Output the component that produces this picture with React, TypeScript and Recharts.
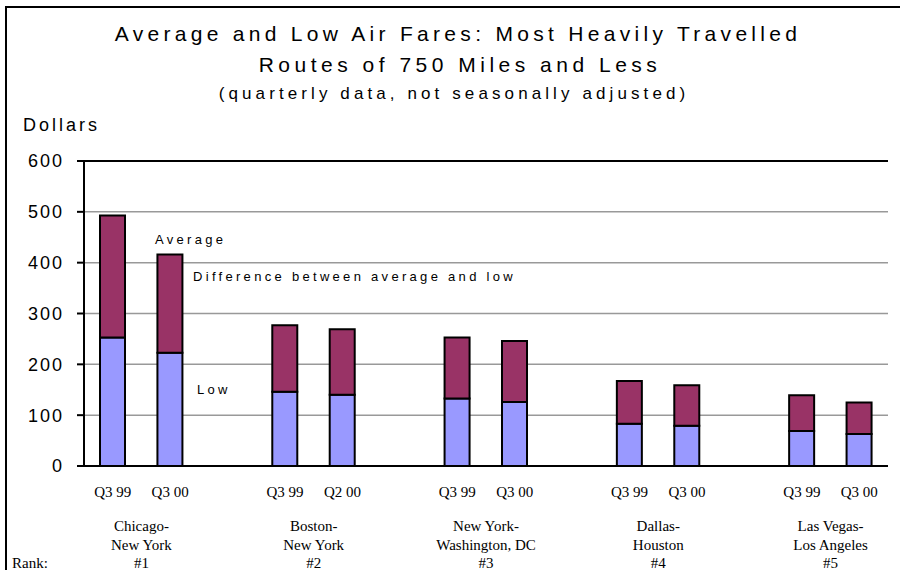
import { Bar, BarChart, CartesianGrid, ReferenceLine, XAxis, YAxis } from "recharts";

const routeTop = ["Chicago-", "Boston-", "New York-", "Dallas-", "Las Vegas-"];
const routeBottom = ["New York", "New York", "Washington, DC", "Houston", "Los Angeles"];
const ranks = ["#1", "#2", "#3", "#4", "#5"];
const quarters = ["Q3 99", "Q3 00", "Q3 99", "Q2 00", "Q3 99", "Q3 00", "Q3 99", "Q3 00", "Q3 99", "Q3 00"];
const lowFares = [253, 223, 146, 140, 133, 126, 83, 79, 69, 63];
const averageFares = [493, 416, 277, 269, 253, 246, 167, 159, 139, 125];
const yTicks = [0, 100, 200, 300, 400, 500, 600];

type Row = {
  key: string;
  quarter?: string;
  low?: number;
  diff?: number;
  route?: number;
  first?: boolean;
};

// two bars per route, one empty slot between routes
const rows: Row[] = [];
routeTop.forEach((_, r) => {
  for (let k = 0; k < 2; k++) {
    const i = r * 2 + k;
    rows.push({
      key: `${r}-${k}`,
      quarter: quarters[i],
      low: lowFares[i],
      diff: averageFares[i] - lowFares[i],
      route: r,
      first: k === 0,
    });
  }
  if (r < routeTop.length - 1) rows.push({ key: `gap-${r}` });
});

const sans = "'Liberation Sans', Arial, sans-serif";
const serif = "'Liberation Serif', 'Times New Roman', serif";

function SlotTick(props: any) {
  const { x, y, payload } = props;
  const row = rows.find((d) => d.key === payload.value);
  if (!row || row.quarter === undefined) return null;
  const mid = x + (payload.offset ?? 0);
  return (
    <g fontFamily={serif} fontSize={15} fill="#000">
      <text x={x} y={y + 31} textAnchor="middle">
        {row.quarter}
      </text>
      {row.first && row.route !== undefined && (
        <text x={mid} y={y + 65} textAnchor="middle">
          <tspan x={mid}>{routeTop[row.route]}</tspan>
          <tspan x={mid} dy={19}>{routeBottom[row.route]}</tspan>
          <tspan x={mid} dy={18}>{ranks[row.route]}</tspan>
        </text>
      )}
    </g>
  );
}

export default function App() {
  return (
    <div style={{ position: "relative", width: 900, height: 570, background: "#fff" }}>
      <style>{`body{margin:0}`}</style>
      <BarChart
        width={900}
        height={570}
        data={rows}
        margin={{ top: 161, right: 12, bottom: 0, left: 14 }}
        barSize={25}
      >
        <CartesianGrid vertical={false} stroke="#999" strokeWidth={1.5} />
        <XAxis
          dataKey="key"
          height={104}
          interval={0}
          tickLine={false}
          tickSize={0}
          tickMargin={0}
          axisLine={{ stroke: "#000", strokeWidth: 2 }}
          tick={<SlotTick />}
        />
        <YAxis
          width={70}
          domain={[0, 600]}
          ticks={yTicks}
          interval={0}
          tickSize={7}
          tickMargin={13}
          tickLine={{ stroke: "#000", strokeWidth: 2 }}
          axisLine={{ stroke: "#000", strokeWidth: 2 }}
          tick={{ fill: "#000", fontSize: 18, fontFamily: sans, letterSpacing: 2 }}
        />
        <YAxis
          yAxisId="frame"
          orientation="right"
          width={0}
          domain={[0, 600]}
          tick={false}
          tickLine={false}
          axisLine={{ stroke: "#000", strokeWidth: 2 }}
        />
        <ReferenceLine y={600} stroke="#000" strokeWidth={2} />
        <Bar dataKey="low" stackId="fare" fill="#9999FF" stroke="#000" strokeWidth={2} isAnimationActive={false} />
        <Bar dataKey="diff" stackId="fare" fill="#993366" stroke="#000" strokeWidth={2} isAnimationActive={false} />
      </BarChart>
      <svg
        width={900}
        height={570}
        style={{ position: "absolute", left: 0, top: 0, pointerEvents: "none" }}
      >
        <path d="M6 570 V7 H900" fill="none" stroke="#000" strokeWidth={2} />
        <g fontFamily={sans} fill="#000" textAnchor="middle">
          <text x={458} y={41} fontSize={21} style={{ letterSpacing: 4.3 }}>
            Average and Low Air Fares: Most Heavily Travelled
          </text>
          <text x={460} y={72} fontSize={21} style={{ letterSpacing: 4.5 }}>
            Routes of 750 Miles and Less
          </text>
          <text x={454} y={99} fontSize={17} style={{ letterSpacing: 4.1 }}>
            (quarterly data, not seasonally adjusted)
          </text>
        </g>
        <g fontFamily={sans} fill="#000">
          <text x={23} y={131} fontSize={18} style={{ letterSpacing: 3 }}>
            Dollars
          </text>
          <text x={155} y={244} fontSize={13} style={{ letterSpacing: 3.3 }}>
            Average
          </text>
          <text x={193} y={281} fontSize={13} style={{ letterSpacing: 3.3 }}>
            Difference between average and low
          </text>
          <text x={197} y={394} fontSize={13} style={{ letterSpacing: 3.3 }}>
            Low
          </text>
        </g>
        <text x={12} y={568} fontFamily={serif} fontSize={15} fill="#000">
          Rank:
        </text>
      </svg>
    </div>
  );
}
